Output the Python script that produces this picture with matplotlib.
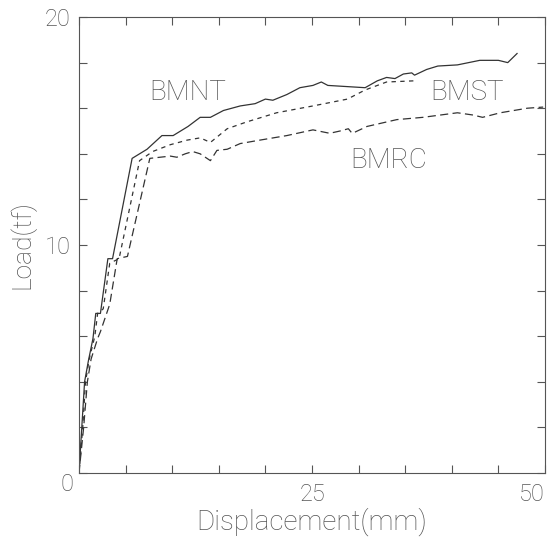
import matplotlib
matplotlib.use("Agg")
import matplotlib.pyplot as plt
from matplotlib.ticker import MultipleLocator

# load-displacement curves for the three beam specimens
bmnt_disp = [0, 0.3, 0.6, 1.0, 1.5, 1.8, 2.3, 3.1, 3.6, 5.7, 7.3, 8.9, 10.1, 11.7, 13.0,
             14.1, 15.5, 17.3, 18.9, 20.0, 20.8, 22.3, 23.7, 25.1, 26.0, 26.7, 30.7, 32.0,
             33.0, 33.9, 34.8, 35.7, 36.0, 37.3, 38.5, 40.6, 43.0, 45.0, 46.0, 47.0]
bmnt_load = [0, 2.0, 4.0, 4.9, 5.9, 7.0, 7.0, 9.4, 9.4, 13.8, 14.2, 14.8, 14.8, 15.2, 15.6,
             15.6, 15.9, 16.1, 16.2, 16.4, 16.35, 16.6, 16.9, 17.0, 17.15, 17.0, 16.9, 17.2,
             17.35, 17.3, 17.5, 17.55, 17.45, 17.7, 17.85, 17.9, 18.1, 18.1, 18.0, 18.4]

bmst_disp = [0, 0.4, 0.7, 1.1, 1.7, 2.0, 2.6, 3.3, 4.3, 6.5, 7.9, 9.8, 11.6, 13.0, 14.1,
             15.9, 18.0, 21.2, 25.1, 28.8, 30.7, 33.0, 35.9]
bmst_load = [0, 2.0, 4.0, 5.0, 6.0, 7.0, 7.2, 9.2, 9.4, 13.7, 14.1, 14.4, 14.6, 14.7, 14.5,
             15.1, 15.4, 15.8, 16.1, 16.4, 16.8, 17.15, 17.2]

bmrc_disp = [0, 0.5, 0.9, 1.3, 2.0, 2.3, 3.3, 4.1, 5.2, 7.6, 9.8, 10.5, 11.4, 12.2, 13.0,
             14.1, 14.8, 15.9, 17.3, 19.4, 22.3, 25.1, 26.9, 28.0, 28.9, 29.3, 29.6, 30.9,
             34.1, 36.9, 40.6, 42.3, 43.3, 45.2, 48.1, 49.8]
bmrc_load = [0, 2.0, 4.0, 5.0, 5.9, 6.2, 7.4, 9.4, 9.5, 13.8, 13.9, 13.85, 14.0, 14.1, 14.0,
             13.7, 14.15, 14.2, 14.45, 14.6, 14.8, 15.05, 14.9, 15.0, 15.1, 14.9, 14.95, 15.2,
             15.5, 15.6, 15.8, 15.7, 15.6, 15.8, 16.0, 16.05]

x_ticks = [0, 25, 50]
x_ticklabels = ['', '25', '50']
y_ticks = [0, 10, 20]
y_ticklabels = ['', '10', '20']

plt.rcParams['font.family'] = ['Roboto', 'DejaVu Sans']
plt.rcParams['font.weight'] = 'light'
txt = '#555555'
ink = '#333333'

fig = plt.figure(figsize=(5.59, 5.37), dpi=100)
ax = fig.add_axes([0.1413, 0.1192, 0.8337, 0.8491])

ax.plot(bmnt_disp, bmnt_load, color=ink, lw=0.9, ls='-')
ax.plot(bmst_disp, bmst_load, color=ink, lw=0.9, ls=(0, (3.5, 3.5)))
ax.plot(bmrc_disp, bmrc_load, color=ink, lw=0.9, ls=(0, (6.5, 3.5)))

ax.text(11.7, 16.7, 'BMNT', fontsize=20, color=txt, ha='center', va='center')
ax.text(41.6, 16.7, 'BMST', fontsize=20, color=txt, ha='center', va='center')
ax.text(33.2, 13.7, 'BMRC', fontsize=20, color=txt, ha='center', va='center')

ax.set_xlim(0, 50)
ax.set_ylim(0, 20)
ax.set_xticks(x_ticks)
ax.set_xticklabels(x_ticklabels)
ax.set_yticks(y_ticks)
ax.set_yticklabels(y_ticklabels)
ax.xaxis.set_minor_locator(MultipleLocator(5))
ax.yaxis.set_minor_locator(MultipleLocator(2))
ax.tick_params(which='both', direction='in', top=True, right=True,
               length=6, width=0.8, color='#555555')
ax.tick_params(which='major', labelsize=17, labelcolor=txt, pad=6)
ax.tick_params(axis='x', which='major', pad=7)
ax.get_xticklabels()[-1].set_ha('right')

# single shared zero at the corner
ax.annotate('0', xy=(0, 0), xycoords='axes fraction', xytext=(-8.3, -8.6),
            textcoords='offset points', ha='center', va='center', fontsize=17, color=txt)

for sp in ax.spines.values():
    sp.set_color('#555555')
    sp.set_linewidth(0.8)

ax.set_xlabel('Displacement(mm)', fontsize=20, color=txt, fontweight='light', labelpad=1)
ax.set_ylabel('Load(tf)', fontsize=19, color=txt, fontweight='light', labelpad=7)

fig.savefig('out.png', dpi=100)
